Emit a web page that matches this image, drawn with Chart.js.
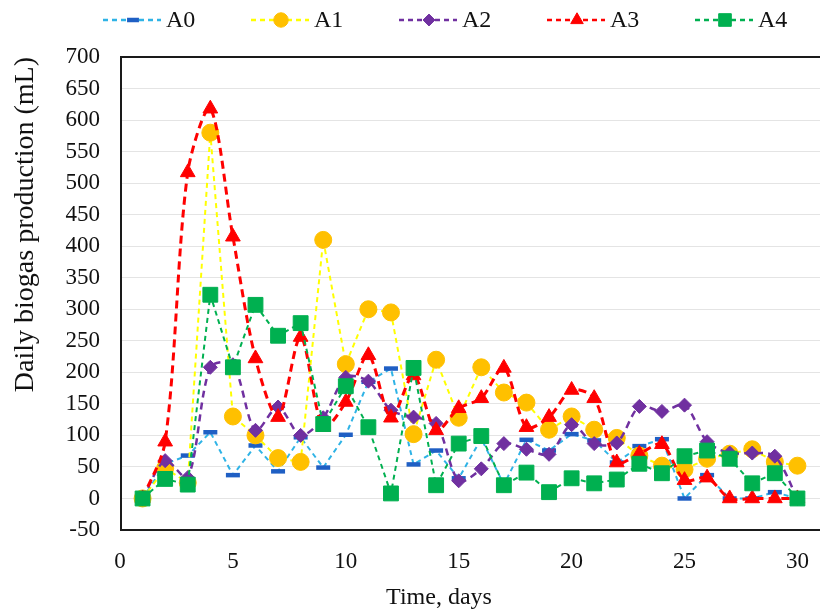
<!DOCTYPE html>
<html lang="en">
<head>
<meta charset="UTF-8">
<meta name="viewport" content="width=device-width, initial-scale=1.0">
<script src="https://cdn.jsdelivr.net/npm/chart.js"></script>
<title>Daily biogas production</title>
<style>
  body { margin: 0; background: #fff; }
  #wrap { width: 820px; height: 615px; }
</style>
</head>
<body>
<div id="wrap"><canvas id="myChart"></canvas></div>
<script>
// days of the run
const days = [1, 2, 3, 4, 5, 6, 7, 8, 9, 10, 11, 12, 13, 14, 15, 16, 17, 18, 19, 20, 21, 22, 23, 24, 25, 26, 27, 28, 29, 30];

// daily biogas (mL)
const a0 = [0, 55, 68, 105, 37, 84, 43, 97, 49, 101, 185, 206, 54, 76, 32, 95, 22, 93, 76, 102, 92, 57, 83, 94, 0, 37, 0, 0, 10, 0];
const a1 = [0, 48, 25, 580, 130, 100, 64, 58, 410, 213, 300, 295, 102, 220, 128, 208, 168, 152, 109, 130, 109, 96, 68, 52, 46, 63, 71, 78, 58, 52];
const a2 = [0, 60, 33, 208, 212, 108, 145, 100, 128, 192, 186, 140, 129, 119, 28, 47, 87, 78, 70, 117, 87, 88, 146, 138, 148, 90, 72, 72, 67, 0];
const a3 = [0, 90, 517, 618, 415, 222, 129, 256, 113, 153, 227, 128, 195, 108, 143, 159, 207, 113, 129, 172, 159, 57, 71, 86, 29, 33, 0, 0, 0, 0];
const a4 = [0, 31, 22, 323, 208, 307, 258, 278, 118, 178, 113, 8, 207, 21, 87, 99, 21, 41, 10, 32, 24, 30, 55, 40, 67, 76, 63, 24, 40, 0];

const seriesNames = ['A0', 'A1', 'A2', 'A3', 'A4'];
const xTicks = [0, 5, 10, 15, 20, 25, 30];
const yMin = -50, yMax = 700, yStep = 50;

const font = 'Liberation Serif';

function pts(vals) {
    return days.map((d, i) => ({ x: d, y: vals[i] }));
}

// look of each series
const styles = [
    { line: '#2FB3E6', mark: '#1F5FC4', shape: 'line', r: 7, bw: 4.5, dash: [5, 4], w: 2, tension: 0 },
    { line: '#FFFF00', mark: '#FFC000', shape: 'circle', r: 8.5, bw: 1, dash: [5, 4], w: 2, tension: 0 },
    { line: '#7030A0', mark: '#7030A0', shape: 'rectRot', r: 7, bw: 1, dash: [7, 5], w: 2.5, tension: 0.3 },
    { line: '#FF0000', mark: '#FF0000', shape: 'triangle', r: 8.5, bw: 1, dash: [8, 5], w: 3, tension: 0.3 },
    { line: '#00B050', mark: '#00B050', shape: 'rect', r: 10.5, bw: 1, dash: [5, 4], w: 2, tension: 0 }
];

const allValues = [a0, a1, a2, a3, a4];

const datasets = allValues.map((vals, i) => ({
    label: seriesNames[i],
    data: pts(vals),
    borderColor: styles[i].line,
    borderWidth: styles[i].w,
    borderDash: styles[i].dash,
    tension: styles[i].tension,
    pointStyle: styles[i].shape,
    pointRadius: styles[i].r,
    pointHoverRadius: styles[i].r,
    pointBackgroundColor: styles[i].mark,
    pointBorderColor: styles[i].mark,
    pointBorderWidth: styles[i].bw,
    order: 4 - i
}));

// black box round the plot
const frame = {
    id: 'frame',
    beforeDatasetsDraw(chart) {
        const { ctx, chartArea: a } = chart;
        ctx.save();
        ctx.strokeStyle = '#1a1a1a';
        ctx.lineWidth = 2;
        ctx.strokeRect(a.left + 1, a.top, a.right - a.left + 2, a.bottom - a.top);
        ctx.restore();
    }
};

// legend with dashed line + marker, and the x title
const extras = {
    id: 'extras',
    afterDraw(chart) {
        const ctx = chart.ctx;
        ctx.save();
        const y = 20;
        seriesNames.forEach((name, i) => {
            const s = styles[i];
            const cx = 133 + i * 148;
            ctx.strokeStyle = s.line;
            ctx.lineWidth = 2.5;
            ctx.setLineDash([5, 4]);
            ctx.beginPath();
            ctx.moveTo(cx - 30, y);
            ctx.lineTo(cx + 28, y);
            ctx.stroke();
            ctx.setLineDash([]);
            ctx.fillStyle = s.mark;
            ctx.strokeStyle = s.mark;
            ctx.lineWidth = s.bw;
            Chart.helpers.drawPoint(ctx, { pointStyle: s.shape, radius: s.r * 0.85, rotation: 0, borderWidth: s.bw }, cx, y);
            ctx.fillStyle = '#111';
            ctx.font = '24px "' + font + '"';
            ctx.textAlign = 'left';
            ctx.textBaseline = 'middle';
            ctx.fillText(name, cx + 33, y + 1);
        });
        ctx.font = '24px "' + font + '"';
        ctx.textAlign = 'center';
        ctx.textBaseline = 'middle';
        ctx.fillStyle = '#111';
        ctx.fillText('Time, days', 439, 598);
        ctx.restore();
    }
};

const ctx = document.getElementById('myChart');
new Chart(ctx, {
    type: 'line',
    data: { datasets: datasets },
    options: {
        responsive: true,
        maintainAspectRatio: false,
        animation: false,
        layout: { autoPadding: false, padding: { top: 57, left: 0, right: 0, bottom: 0 } },
        plugins: {
            legend: { display: false },
            tooltip: { enabled: false }
        },
        scales: {
            x: {
                type: 'linear',
                min: 0,
                max: 31,
                afterBuildTicks: (scale) => {
                    scale.ticks = xTicks.map(v => ({ value: v }));
                },
                afterFit: (scale) => {
                    scale.height = 85;
                    scale.paddingLeft = 0;
                    scale.paddingRight = 0;
                },
                grid: { display: false, drawTicks: false },
                border: { display: false },
                ticks: {
                    padding: 18,
                    color: '#111',
                    font: { family: font, size: 23 }
                }
            },
            y: {
                min: yMin,
                max: yMax,
                afterFit: (scale) => { scale.width = 120; },
                grid: { color: '#E4E4E4', lineWidth: 1, drawTicks: false },
                border: { display: false },
                ticks: {
                    stepSize: yStep,
                    padding: 20,
                    color: '#111',
                    font: { family: font, size: 23 }
                },
                title: {
                    display: true,
                    text: 'Daily biogas production (mL)',
                    align: 'end',
                    color: '#111',
                    padding: { top: 9, bottom: 0 },
                    font: { family: font, size: 28 }
                }
            }
        }
    },
    plugins: [frame, extras]
});
</script>
</body>
</html>
